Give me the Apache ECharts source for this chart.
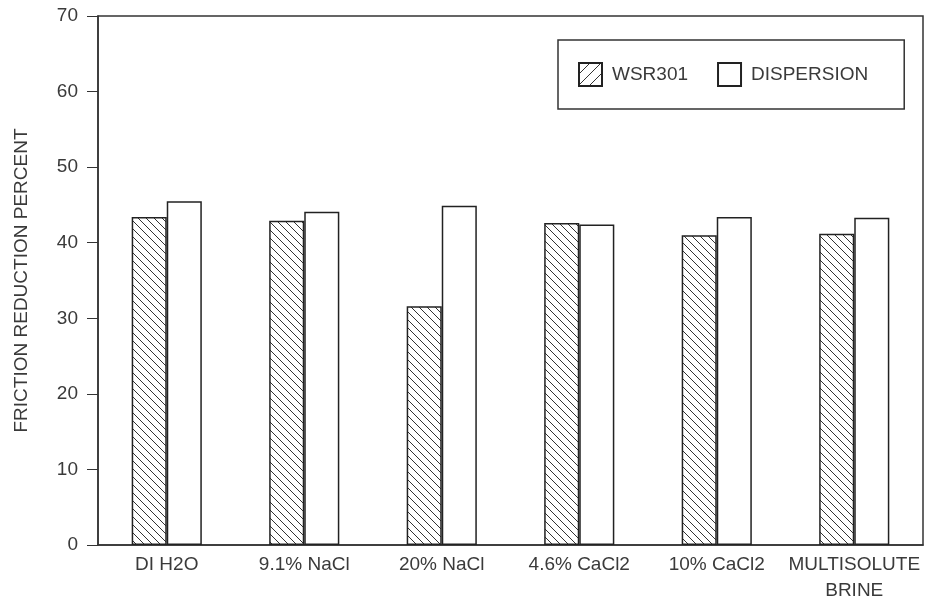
<!DOCTYPE html>
<html>
<head>
<meta charset="utf-8">
<script src="https://cdn.jsdelivr.net/npm/echarts@6/dist/echarts.min.js"></script>
<style>html,body{margin:0;padding:0;background:#fff}#c{width:928px;height:605px}</style>
</head>
<body>
<div id="c"></div>
<script>
const categories = ['DI H2O', '9.1% NaCl', '20% NaCl', '4.6% CaCl2', '10% CaCl2', 'MULTISOLUTE\nBRINE'];
const wsr301 = [43.4, 42.9, 31.6, 42.6, 41.0, 41.2];
const dispersion = [45.5, 44.1, 44.9, 42.4, 43.4, 43.3];
const yTicks = [0, 10, 20, 30, 40, 50, 60, 70];

function hatch(size, forward) {
  const s = size;
  const c = document.createElement('canvas');
  c.width = s; c.height = s;
  const g = c.getContext('2d');
  g.fillStyle = '#fff';
  g.fillRect(0, 0, s, s);
  g.strokeStyle = '#333';
  g.lineWidth = 1;
  g.beginPath();
  if (!forward) {
    g.moveTo(-1, -1); g.lineTo(s + 1, s + 1);
    g.moveTo(-1, s - 1); g.lineTo(1, s + 1);
    g.moveTo(s - 1, -1); g.lineTo(s + 1, 1);
  } else {
    g.moveTo(-1, s + 1); g.lineTo(s + 1, -1);
    g.moveTo(-1, 1); g.lineTo(1, -1);
    g.moveTo(s - 1, s + 1); g.lineTo(s + 1, s - 1);
  }
  g.stroke();
  return c;
}

const font = '"Liberation Sans", Arial, sans-serif';
const fs = 19;
const txt = '#3a3a3a';
const chart = echarts.init(document.getElementById('c'), null, {renderer: 'canvas'});
chart.setOption({
  animation: false,
  backgroundColor: '#fff',
  textStyle: {fontFamily: font},
  grid: {left: 98, right: 5, top: 16, bottom: 60, show: true, borderColor: '#333', borderWidth: 1.5,
         backgroundColor: 'transparent', containLabel: false, outerBoundsMode: 'none'},
  legend: {
    left: 558, top: 40,
    padding: [22, 36, 22, 20],
    itemGap: 29, itemWidth: 23, itemHeight: 23,
    icon: 'rect',
    borderColor: '#333', borderWidth: 1.5,
    textStyle: {fontFamily: font, fontSize: fs, color: txt, padding: [0, 0, 0, 5]},
    data: [
      {name: 'WSR301', itemStyle: {color: {image: hatch(11, true), repeat: 'repeat'}}},
      {name: 'DISPERSION'}
    ]
  },
  xAxis: {
    type: 'category',
    data: categories,
    axisLine: {lineStyle: {color: '#333', width: 1.5}},
    axisTick: {show: false},
    axisLabel: {fontFamily: font, fontSize: fs, color: txt, margin: 7, lineHeight: 26, interval: 0}
  },
  yAxis: {
    type: 'value',
    min: yTicks[0], max: yTicks[yTicks.length - 1], interval: 10,
    name: 'FRICTION REDUCTION PERCENT',
    nameLocation: 'middle', nameGap: 67, nameRotate: 90,
    nameTextStyle: {fontFamily: font, fontSize: fs, color: txt},
    axisLine: {show: true, lineStyle: {color: '#333', width: 1.5}},
    axisTick: {show: true, inside: false, length: 11, lineStyle: {color: '#333', width: 1}},
    axisLabel: {fontFamily: font, fontSize: fs, color: txt, margin: 20},
    splitLine: {show: false}
  },
  series: [
    {name: 'WSR301', type: 'bar', data: wsr301, barWidth: '25.5%', barGap: '0%',
     itemStyle: {color: {image: hatch(8, false), repeat: 'repeat'}, borderColor: '#222', borderWidth: 1.5}},
    {name: 'DISPERSION', type: 'bar', data: dispersion, barWidth: '25.5%', barGap: '0%',
     itemStyle: {color: '#fff', borderColor: '#222', borderWidth: 1.5}}
  ]
});
</script>
</body>
</html>
